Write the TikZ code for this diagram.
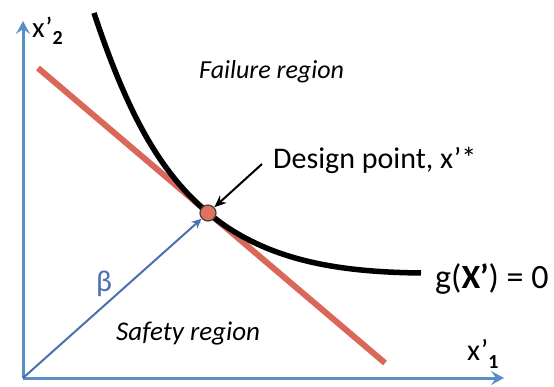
\documentclass[tikz,border=0pt]{standalone}
\usepackage{fontspec}
\setmainfont{Carlito}
\usepackage{tikz}
\usetikzlibrary{arrows.meta,positioning}
\usepackage{xcolor}
\definecolor{AxisBlue}{HTML}{5B8DC9}
\definecolor{BetaBlue}{HTML}{4A70AE}
\definecolor{LimitRed}{HTML}{D9675A}
\definecolor{PointRed}{HTML}{E2705F}

\begin{document}
\begin{tikzpicture}[x=1pt,y=-1pt, every node/.style={inner sep=0pt}]
\useasboundingbox (0,0) rectangle (554,387);
\coordinate (o) at (23,378);
\coordinate (x1) at (504,378);
\coordinate (x2) at (23,21);
\coordinate (rtop) at (38,68);
\coordinate (rbot) at (385,363);
\coordinate (gtop) at (94,13);
\coordinate (gend) at (421,273);
\coordinate (dpc) at (208,213);
\coordinate (dptail) at (262,164);
\draw[AxisBlue,line width=3pt,-{Stealth[length=13pt,width=14pt,inset=5pt]}] (o) -- (x1);
\draw[AxisBlue,line width=3pt,-{Stealth[length=13pt,width=14pt,inset=5pt]}] (o) -- (x2);
\draw[LimitRed,line width=6pt] (rtop) -- (rbot);
\draw[black,line width=5.5pt] (gtop) .. controls (128,115) and (160,172) .. (dpc) .. controls (265,260) and (335,272) .. (gend);
\node[circle,draw=black!75,fill=PointRed,minimum size=16pt,line width=1.2pt] (dp) at (dpc) {};
\draw[BetaBlue,line width=2pt,-{Stealth[length=10pt,width=9pt]}] (o) -- (dp);
\draw[black,line width=2pt,-{Stealth[length=12pt,width=10pt]}] (dptail) -- (dp);
\node[anchor=base west,font=\fontsize{30}{34}\selectfont] (dplabel) at (273,169) {Design point, x’*};
\node[anchor=base west,font=\fontsize{34}{38}\selectfont] (glabel) at (435,288) {g(\textbf{X’}) = 0};
\node[anchor=base west,font=\fontsize{26}{30}\selectfont\itshape] (fail) at (199,79) {Failure region};
\node[anchor=base west,font=\fontsize{27}{31}\selectfont\itshape] (safe) at (116,340) {Safety region};
\node[BetaBlue,font=\fontsize{30}{34}\selectfont] (beta) at (104,284) {β};
\node[anchor=base west,font=\fontsize{29}{33}\selectfont] (x2label) at (32,38) {x’\raisebox{-7pt}{\fontsize{20}{24}\selectfont\bfseries 2}};
\node[anchor=base west,font=\fontsize{30}{34}\selectfont] (x1label) at (467,360) {x’\raisebox{-8pt}{\fontsize{20}{24}\selectfont\bfseries 1}};
\end{tikzpicture}
\end{document}
